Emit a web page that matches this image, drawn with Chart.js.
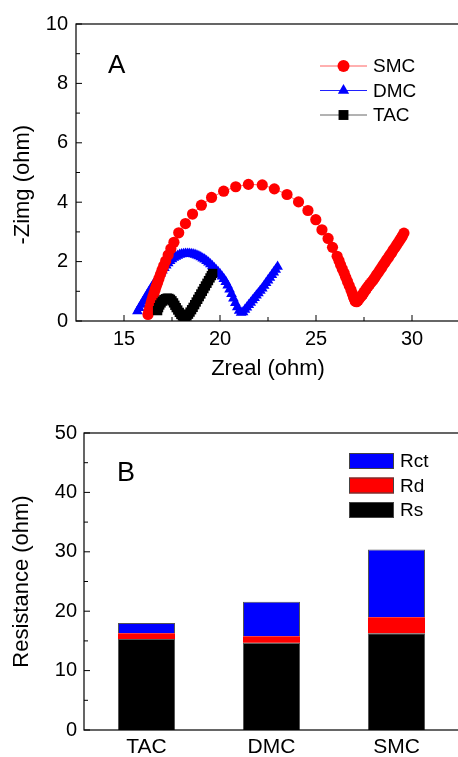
<!DOCTYPE html>
<html><head><meta charset="utf-8">
<script src="https://cdn.jsdelivr.net/npm/chart.js@4.4.1/dist/chart.umd.min.js"></script>
<style>
html,body{margin:0;padding:0;background:#fff;overflow:hidden;width:458px;height:757px}
#c1{position:absolute;left:0;top:0}
#c2{position:absolute;left:0;top:380px}
</style></head><body>
<canvas id="c1" width="480" height="380"></canvas>
<canvas id="c2" width="480" height="377"></canvas>
<script>
// ---- Panel A: Nyquist data ----
const seriesNames = ['SMC','DMC','TAC'];
const smcX = [16.25,16.3,16.35,16.4,16.45,16.5,16.56,16.62,16.68,16.75,16.82,16.9,16.98,17.07,17.17,17.3,17.44,17.6,17.85,18.2,18.57,19.03,19.56,20.19,20.82,21.48,22.2,22.83,23.49,24.09,24.58,24.99,25.31,25.63,25.86,26.1,26.2,26.28,26.37,26.47,26.55,26.64,26.73,26.82,26.89,26.95,27.0,27.05,27.12,27.2,27.28,27.37,27.44,27.5,27.57,27.64,27.72,27.8,27.89,27.98,28.06,28.15,28.24,28.33,28.42,28.5,28.59,28.68,28.77,28.85,28.94,29.02,29.11,29.2,29.28,29.37,29.44,29.5,29.58];
const smcY = [0.22,0.33,0.45,0.57,0.69,0.81,0.93,1.05,1.17,1.3,1.43,1.57,1.71,1.86,2.02,2.22,2.43,2.65,2.97,3.28,3.6,3.9,4.16,4.37,4.52,4.6,4.58,4.45,4.26,4.01,3.72,3.41,3.07,2.78,2.48,2.18,2.03,1.89,1.75,1.61,1.47,1.33,1.19,1.05,0.93,0.82,0.73,0.66,0.65,0.7,0.77,0.84,0.9,0.97,1.03,1.1,1.17,1.24,1.31,1.38,1.46,1.55,1.63,1.72,1.8,1.89,1.97,2.06,2.14,2.22,2.3,2.39,2.47,2.56,2.64,2.73,2.8,2.86,2.96];
const dmcX = [15.7,15.8,15.9,16.0,16.1,16.2,16.3,16.4,16.5,16.6,16.7,16.8,16.9,17.0,17.1,17.2,17.3,17.4,17.5,17.6,17.7,17.8,17.9,18.0,18.1,18.2,18.3,18.4,18.5,18.6,18.7,18.8,18.9,19.0,19.1,19.2,19.3,19.4,19.5,19.6,19.7,19.8,19.9,20.0,20.1,20.2,20.3,20.4,20.5,20.6,20.7,20.8,20.9,21.0,21.1,21.2,21.3,21.4,21.5,21.6,21.7,21.8,21.9,22.0,22.1,22.2,22.3,22.4,22.5,22.6,22.7,22.8,22.9,23.0];
const dmcY = [0.33,0.44,0.55,0.66,0.77,0.88,0.99,1.09,1.2,1.3,1.4,1.5,1.6,1.7,1.79,1.87,1.95,2.02,2.08,2.13,2.17,2.2,2.23,2.25,2.26,2.27,2.27,2.27,2.26,2.25,2.23,2.21,2.18,2.15,2.11,2.07,2.02,1.97,1.91,1.85,1.79,1.72,1.65,1.58,1.5,1.42,1.32,1.2,1.06,0.91,0.76,0.61,0.47,0.35,0.28,0.3,0.38,0.46,0.54,0.62,0.7,0.78,0.86,0.94,1.02,1.1,1.19,1.28,1.37,1.46,1.55,1.64,1.73,1.83];
const tacX = [16.75,16.8,16.86,16.93,17.0,17.08,17.16,17.25,17.34,17.42,17.5,17.58,17.65,17.72,17.8,17.88,17.96,18.04,18.12,18.2,18.28,18.36,18.44,18.52,18.6,18.68,18.76,18.84,18.92,19.0,19.08,19.16,19.24,19.32,19.4,19.48,19.55,19.62];
const tacY = [0.35,0.45,0.54,0.61,0.67,0.72,0.75,0.77,0.76,0.73,0.68,0.61,0.53,0.45,0.37,0.29,0.22,0.17,0.14,0.14,0.17,0.23,0.3,0.38,0.46,0.55,0.64,0.73,0.82,0.91,1.0,1.09,1.18,1.27,1.36,1.45,1.53,1.6];
const topXTicks = [15,20,25,30];
const topYTicks = [0,2,4,6,8,10];

// ---- Panel B: resistance bars ----
const categories = ['TAC','DMC','SMC'];
const rsVals = [15.3,14.7,16.3];
const rdVals = [1.0,1.1,2.7];
const rctVals = [1.7,5.8,11.4];
const barYTicks = [0,10,20,30,40,50];

const FONT = "'Liberation Sans', Arial, sans-serif";
const zip = (xs, ys) => xs.map((x,i)=>({x, y: ys[i]}));

function line(ctx,x1,y1,x2,y2){ctx.beginPath();ctx.moveTo(x1,y1);ctx.lineTo(x2,y2);ctx.stroke();}

function framePlugin(cfg){
  return {
    id:'frameTicks',
    afterDraw(chart){
      const {ctx, chartArea:a} = chart;
      ctx.save();
      ctx.strokeStyle = '#000';
      ctx.lineWidth = 1.2;
      ctx.strokeRect(a.left, a.top, a.right-a.left, a.bottom-a.top);
      ctx.lineWidth = 1;
      const ys = chart.scales.y;
      cfg.yTicks.forEach((v,i)=>{
        const p = ys.getPixelForValue(v);
        line(ctx, a.left, p, a.left+6, p);
        if (i < cfg.yTicks.length-1){
          const m = ys.getPixelForValue((v + cfg.yTicks[i+1])/2);
          line(ctx, a.left, m, a.left+4, m);
        }
      });
      if (cfg.xTicks){
        const xs = chart.scales.x;
        const vals = cfg.xTicks;
        const step = vals[1]-vals[0];
        const minors = [vals[0]-step/2].concat(vals.map(v=>v+step/2));
        vals.forEach(v=>{const p=xs.getPixelForValue(v); line(ctx,p,a.bottom,p,a.bottom-6);});
        minors.forEach(v=>{ if(v>xs.min && v<xs.max){const p=xs.getPixelForValue(v); line(ctx,p,a.bottom,p,a.bottom-4);} });
      }
      // panel letter
      ctx.fillStyle = '#000';
      ctx.font = cfg.letterSize + 'px ' + FONT;
      ctx.textBaseline = 'alphabetic';
      ctx.textAlign = 'left';
      ctx.fillText(cfg.letter, cfg.letterX, cfg.letterY);
      // legend
      ctx.font = cfg.legendFont + 'px ' + FONT;
      ctx.textBaseline = 'middle';
      cfg.legendOrder.forEach((di, r)=>{
        const ds = chart.data.datasets[di];
        const y = cfg.legendY + r*cfg.legendStep;
        if (cfg.kind === 'line'){
          ctx.strokeStyle = ds.borderColor; ctx.lineWidth = 1;
          line(ctx, cfg.legendX, y, cfg.legendX+47, y);
          ctx.fillStyle = ds.pointBackgroundColor;
          Chart.helpers.drawPoint(ctx, {pointStyle: ds.pointStyle, radius: cfg.legendRadius[r], rotation:0, borderWidth:0}, cfg.legendX+23.5, y);
          ctx.fillStyle = '#000';
          ctx.fillText(ds.label, cfg.legendX+53, y+1);
        } else {
          ctx.fillStyle = ds.backgroundColor;
          ctx.fillRect(cfg.legendX, y-8, 45, 16);
          ctx.strokeStyle = '#444'; ctx.lineWidth = 1;
          ctx.strokeRect(cfg.legendX+0.5, y-7.5, 44, 15);
          ctx.fillStyle = '#000';
          ctx.fillText(ds.label, cfg.legendX+51, y+1);
        }
      });
      ctx.restore();
    }
  };
}

const tickFont = {family: FONT, size: 20};
const titleFont = {family: FONT, size: 22, lineHeight: 1};

new Chart(document.getElementById('c1'), {
  type: 'scatter',
  data: { datasets: [
    {label: seriesNames[2], data: zip(tacX, tacY), showLine: true, borderColor: '#666', borderWidth: 1,
     pointStyle: 'rect', pointRadius: 6.6, pointBackgroundColor: '#000', pointBorderWidth: 0, order: 0},
    {label: seriesNames[0], data: zip(smcX, smcY), showLine: true, borderColor: '#ff6060', borderWidth: 1,
     pointStyle: 'circle', pointRadius: 5.6, pointBackgroundColor: '#ff0000', pointBorderWidth: 0, order: 1},
    {label: seriesNames[1], data: zip(dmcX, dmcY), showLine: true, borderColor: '#2020ff', borderWidth: 1,
     pointStyle: 'triangle', pointRadius: 6.2, pointBackgroundColor: '#0000ff', pointBorderWidth: 0, order: 2}
  ]},
  options: {
    responsive: false, animation: false, devicePixelRatio: 1,
    layout: {autoPadding: false, padding: {top: 24, right: 20, left: 0, bottom: 0}},
    plugins: {legend: {display: false}, tooltip: {enabled: false}},
    scales: {
      x: {type: 'linear', min: 12.5, max: 32.5,
          afterBuildTicks: s => { s.ticks = topXTicks.map(v=>({value:v})); },
          afterFit: s => { s.height = 59; },
          grid: {display: false, drawTicks: false}, border: {display: false},
          ticks: {font: tickFont, color: '#000', padding: 6, maxRotation: 0},
          title: {display: true, text: 'Zreal (ohm)', font: titleFont, color: '#000', padding: {top: 0, bottom: 0}}},
      y: {type: 'linear', min: 0, max: 10,
          afterBuildTicks: s => { s.ticks = topYTicks.map(v=>({value:v})); },
          afterFit: s => { s.width = 76; },
          grid: {display: false, drawTicks: false}, border: {display: false},
          ticks: {font: tickFont, color: '#000', padding: 8},
          title: {display: true, text: '-Zimg (ohm)\u00a0\u00a0\u00a0\u00a0', font: titleFont, color: '#000', padding: {top: 12, bottom: 0}}}
    }
  },
  plugins: [framePlugin({yTicks: topYTicks, xTicks: topXTicks, letter: 'A', letterSize: 26, letterX: 108, letterY: 73,
    kind: 'line', legendOrder: [1,2,0], legendX: 320, legendY: 66, legendStep: 24.5, legendFont: 19, legendRadius: [6,6.5,7]})]
});

new Chart(document.getElementById('c2'), {
  type: 'bar',
  data: { labels: categories, datasets: [
    {label: 'Rs', data: rsVals, backgroundColor: '#000000', borderColor: '#555', borderWidth: 1},
    {label: 'Rd', data: rdVals, backgroundColor: '#ff0000', borderColor: '#555', borderWidth: 0},
    {label: 'Rct', data: rctVals, backgroundColor: '#0000ff', borderColor: '#555', borderWidth: 1}
  ]},
  options: {
    responsive: false, animation: false, devicePixelRatio: 1,
    layout: {autoPadding: false, padding: {top: 53, right: 21, left: 0, bottom: 0}},
    plugins: {legend: {display: false}, tooltip: {enabled: false}},
    datasets: {bar: {categoryPercentage: 1, barPercentage: 0.456}},
    scales: {
      x: {stacked: true,
          afterFit: s => { s.height = 27; },
          grid: {display: false, drawTicks: false}, border: {display: false},
          ticks: {font: {family: FONT, size: 21}, color: '#000', padding: 5, maxRotation: 0}},
      y: {stacked: true, min: 0, max: 50,
          afterBuildTicks: s => { s.ticks = barYTicks.map(v=>({value:v})); },
          afterFit: s => { s.width = 84; },
          grid: {display: false, drawTicks: false}, border: {display: false},
          ticks: {font: tickFont, color: '#000', padding: 7},
          title: {display: true, text: 'Resistance (ohm)', font: titleFont, color: '#000', padding: {top: 11, bottom: 0}}}
    }
  },
  plugins: [framePlugin({yTicks: barYTicks, letter: 'B', letterSize: 27, letterX: 117, letterY: 101,
    kind: 'bar', legendOrder: [2,1,0], legendX: 349, legendY: 81, legendStep: 24.5, legendFont: 19})]
});
</script>
</body></html>
